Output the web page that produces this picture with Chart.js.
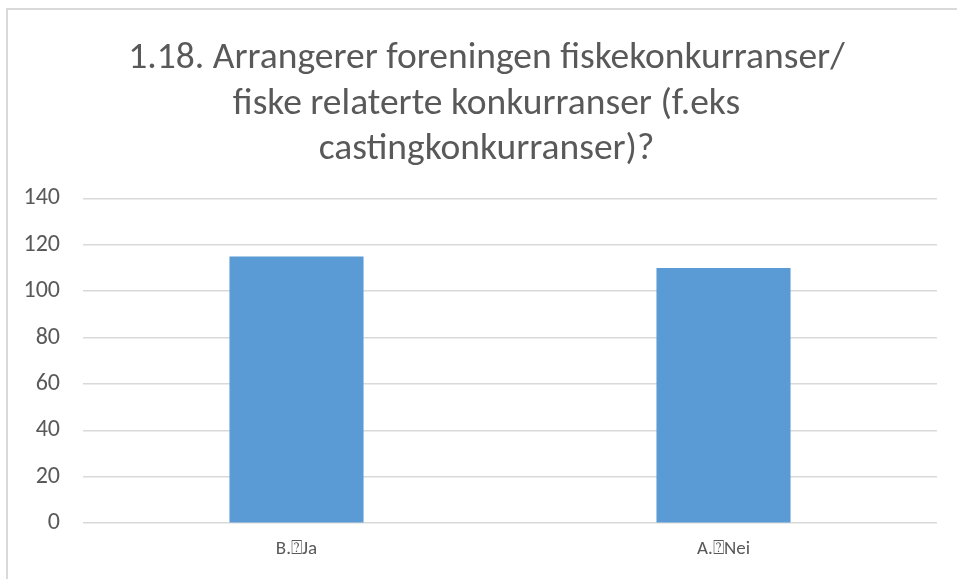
<!DOCTYPE html>
<html>
<head>
<meta charset="utf-8">
<script src="https://cdn.jsdelivr.net/npm/chart.js@4/dist/chart.umd.min.js"></script>
<style>
  html, body { margin: 0; padding: 0; background: #fff; overflow: hidden; }
  #wrap { position: absolute; left: 0; top: 0; width: 957px; height: 579px; }
  #frame { position: absolute; left: 6px; top: 8px; width: 1000px; height: 600px; border: 2px solid #d9d9d9; box-sizing: border-box; pointer-events: none; }
</style>
</head>
<body>
<div id="wrap"><canvas id="chart" width="957" height="579"></canvas></div>
<div id="frame"></div>
<script>
const TITLE_LINES = [
  '1.18. Arrangerer foreningen fiskekonkurranser/',
  'fiske relaterte konkurranser (f.eks',
  'castingkonkurranser)?',
];
const CATEGORIES = ['B.\u2370Ja', 'A.\u2370Nei'];
const VALUES = [115, 110];
const Y_MIN = 0;
const Y_MAX = 140;
const Y_STEP = 20;

const TEXT = '#595959';
const GRID = '#d9d9d9';
const BAR = '#5b9bd5';
const FONT = 'Carlito, Lato, "Liberation Sans", "DejaVu Sans", sans-serif';

// the original title sits a bit right of the canvas centre
const shiftTitle = {
  id: 'shiftTitle',
  afterLayout(chart) {
    if (chart.titleBlock) chart.titleBlock.left += 30;
  },
};

new Chart(document.getElementById('chart'), {
  type: 'bar',
  data: {
    labels: CATEGORIES,
    datasets: [{
      data: VALUES,
      backgroundColor: BAR,
      borderWidth: 0,
      categoryPercentage: 1,
      barPercentage: 0.314,
    }],
  },
  options: {
    responsive: false,
    animation: false,
    layout: { padding: { left: 6, right: 20, top: 0, bottom: 3 } },
    plugins: {
      legend: { display: false },
      tooltip: { enabled: false },
      title: {
        display: true,
        text: TITLE_LINES,
        color: TEXT,
        font: { family: FONT, size: 37.5, weight: 'normal', lineHeight: 1.213 },
        padding: { top: 36, bottom: 26 },
      },
    },
    scales: {
      x: {
        grid: { display: false, drawTicks: false },
        border: { display: false },
        ticks: { color: TEXT, font: { family: FONT, size: 19 }, padding: 15 },
      },
      y: {
        min: Y_MIN,
        max: Y_MAX,
        afterFit: (scale) => { scale.width = 77; },
        grid: { color: GRID, lineWidth: 1.5, drawTicks: false },
        border: { display: false },
        ticks: { stepSize: Y_STEP, color: TEXT, font: { family: FONT, size: 24 }, padding: 23 },
      },
    },
  },
  plugins: [shiftTitle],
});
</script>
</body>
</html>
